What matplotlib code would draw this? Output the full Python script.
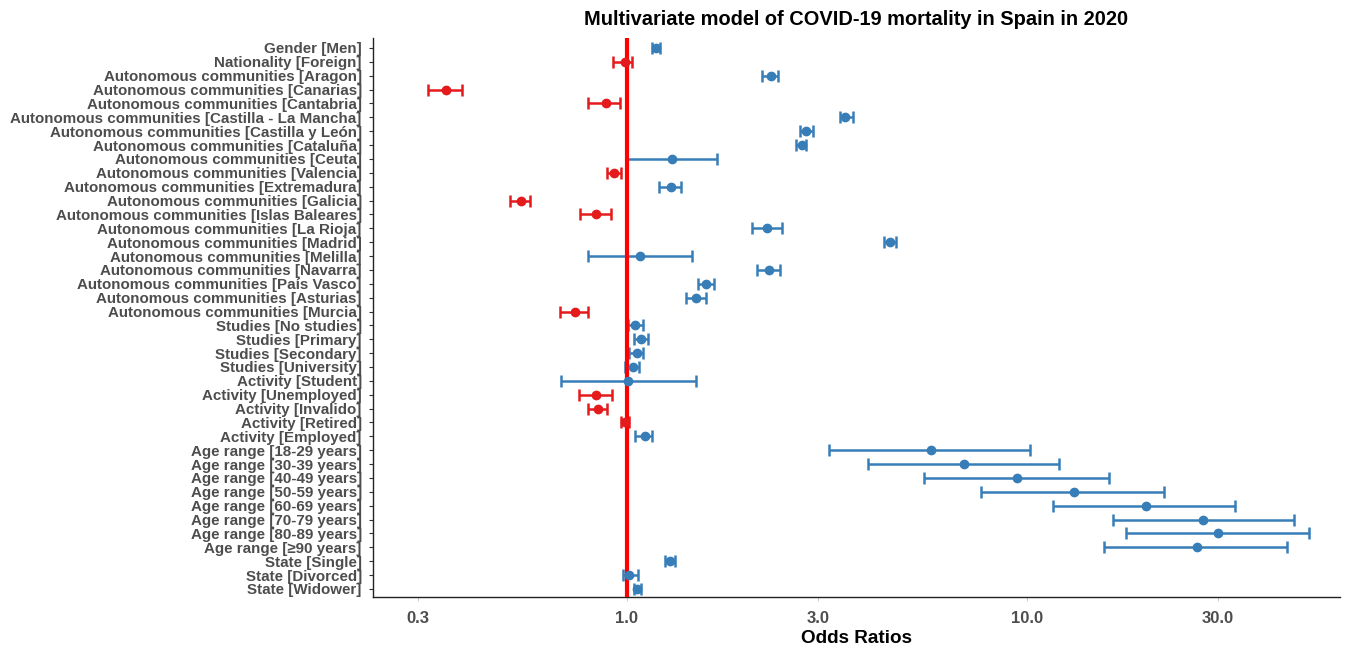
import numpy as np
import matplotlib.pyplot as plt
from matplotlib.ticker import FixedLocator, FixedFormatter, NullLocator

# terms, top to bottom
labels = [
    "Gender [Men]", "Nationality [Foreign]",
    "Autonomous communities [Aragon]", "Autonomous communities [Canarias]",
    "Autonomous communities [Cantabria]", "Autonomous communities [Castilla - La Mancha]",
    "Autonomous communities [Castilla y León]", "Autonomous communities [Cataluña]",
    "Autonomous communities [Ceuta]", "Autonomous communities [Valencia]",
    "Autonomous communities [Extremadura]", "Autonomous communities [Galicia]",
    "Autonomous communities [Islas Baleares]", "Autonomous communities [La Rioja]",
    "Autonomous communities [Madrid]", "Autonomous communities [Melilla]",
    "Autonomous communities [Navarra]", "Autonomous communities [País Vasco]",
    "Autonomous communities [Asturias]", "Autonomous communities [Murcia]",
    "Studies [No studies]", "Studies [Primary]", "Studies [Secondary]", "Studies [University]",
    "Activity [Student]", "Activity [Unemployed]", "Activity [Invalido]",
    "Activity [Retired]", "Activity [Employed]",
    "Age range [18-29 years]", "Age range [30-39 years]", "Age range [40-49 years]",
    "Age range [50-59 years]", "Age range [60-69 years]", "Age range [70-79 years]",
    "Age range [80-89 years]", "Age range [≥90 years]",
    "State [Single]", "State [Divorced]", "State [Widower]",
]

odds = [1.18, 0.99, 2.29, 0.353, 0.885, 3.52, 2.81, 2.74, 1.30, 0.93,
        1.286, 0.545, 0.838, 2.24, 4.56, 1.078, 2.27, 1.576, 1.488, 0.74,
        1.051, 1.086, 1.059, 1.037, 1.008, 0.837, 0.848, 0.99, 1.109,
        5.77, 6.96, 9.42, 13.1, 19.8, 27.6, 30.0, 26.6,
        1.28, 1.013, 1.061]
ci_low = [1.155, 0.926, 2.18, 0.319, 0.802, 3.41, 2.71, 2.65, 0.994, 0.89,
          1.205, 0.511, 0.764, 2.05, 4.39, 0.798, 2.12, 1.502, 1.405, 0.681,
          1.004, 1.043, 1.013, 0.99, 0.683, 0.759, 0.802, 0.966, 1.047,
          3.21, 4.0, 5.53, 7.67, 11.6, 16.4, 17.7, 15.6,
          1.244, 0.979, 1.041]
ci_high = [1.21, 1.03, 2.39, 0.387, 0.964, 3.67, 2.92, 2.81, 1.68, 0.968,
           1.365, 0.574, 0.912, 2.44, 4.72, 1.456, 2.42, 1.654, 1.576, 0.798,
           1.098, 1.128, 1.098, 1.073, 1.485, 0.916, 0.893, 1.013, 1.159,
           10.2, 12.0, 16.0, 22.0, 33.2, 46.5, 50.7, 44.6,
           1.318, 1.067, 1.082]

x_ticks = [0.3, 1.0, 3.0, 10.0, 30.0]
x_tick_labels = ["0.3", "1.0", "3.0", "10.0", "30.0"]

RED = "#E41A1C"
BLUE = "#377EB8"
GREY = "#4D4D4D"

plt.rcParams["font.family"] = ["Liberation Sans", "DejaVu Sans"]

fig = plt.figure(figsize=(13.46, 6.46), dpi=100)
ax = fig.add_axes([0.2771, 0.0759, 0.7184, 0.8653])

ypos = np.arange(len(labels))
odds_a = np.array(odds)
lo_a = np.array(ci_low)
hi_a = np.array(ci_high)

# reference line at OR = 1
ax.axvline(1.0, color="#FF0000", linewidth=3, zorder=3)

for i in range(len(labels)):
    col = RED if odds_a[i] < 1 else BLUE
    ax.errorbar(odds_a[i], ypos[i],
                xerr=[[odds_a[i] - lo_a[i]], [hi_a[i] - odds_a[i]]],
                fmt="none", ecolor=col, elinewidth=1.8, capsize=4.5,
                capthick=1.8, zorder=2)
    ax.plot(odds_a[i], ypos[i], "o", color=col, markersize=6, zorder=4)

ax.set_xscale("log")
ax.set_xlim(0.232, 60.6)
ax.set_ylim(39.58, -0.72)
ax.xaxis.set_major_locator(FixedLocator(x_ticks))
ax.xaxis.set_major_formatter(FixedFormatter(x_tick_labels))
ax.xaxis.set_minor_locator(NullLocator())
ax.set_yticks(ypos)
ax.set_yticklabels(labels)

for lbl in ax.get_yticklabels():
    lbl.set_fontweight("bold")
    lbl.set_fontsize(10.9)
    lbl.set_color(GREY)
for lbl in ax.get_xticklabels():
    lbl.set_fontweight("bold")
    lbl.set_fontsize(12)
    lbl.set_color(GREY)

ax.tick_params(axis="y", length=3, width=0.8, color="#333333", pad=5)
ax.tick_params(axis="x", length=3, width=0.8, color="#CCCCCC", pad=7)

for side in ["top", "right"]:
    ax.spines[side].set_visible(False)
for side in ["left", "bottom"]:
    ax.spines[side].set_color("#222222")
    ax.spines[side].set_linewidth(1.0)

ax.set_xlabel("Odds Ratios", fontsize=13.6, fontweight="bold", labelpad=3)
ax.set_title("Multivariate model of COVID-19 mortality in Spain in 2020",
             fontsize=14.4, fontweight="bold", pad=9)

fig.savefig("out.png", dpi=100)
